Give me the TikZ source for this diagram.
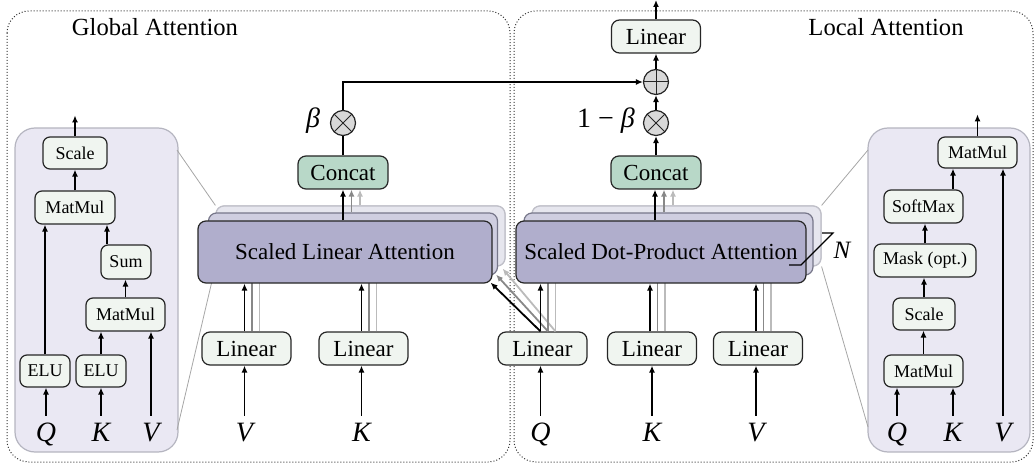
\documentclass[tikz,border=0pt]{standalone}
\usepackage{fontspec}
\setmainfont{Liberation Serif}
\usetikzlibrary{arrows.meta,calc}
\definecolor{boxfill}{HTML}{F0F5F0}
\definecolor{concatfill}{HTML}{B8D8C8}
\definecolor{panelfill}{HTML}{EAE8F3}
\definecolor{panelline}{HTML}{B5B5C0}
\definecolor{frontfill}{HTML}{B0AECC}
\definecolor{midfill}{HTML}{CFCEE0}
\definecolor{midline}{HTML}{77778A}
\definecolor{backfill}{HTML}{E6E6EE}
\definecolor{backline}{HTML}{BFBFC8}
\definecolor{circfill}{HTML}{D9D9D9}
\definecolor{garrow}{HTML}{888888}
\definecolor{larrow}{HTML}{BBBBBB}
\begin{document}
\begin{tikzpicture}[x=0.5pt,y=-0.5pt,
  lin/.style={draw=black!85, line width=0.6pt, rounded corners=4pt, fill=boxfill,
    minimum width=44.5pt, minimum height=16.5pt, inner sep=0pt,
    font=\fontsize{11.5}{13}\selectfont},
  concatbox/.style={lin, fill=concatfill, minimum width=45pt},
  sm/.style={draw=black!85, line width=0.6pt, rounded corners=3.5pt, fill=boxfill,
    minimum height=16pt, inner sep=0pt, font=\fontsize{9}{10}\selectfont},
  inp/.style={anchor=base, font=\fontsize{14}{16}\selectfont\itshape,
    text height=9.5pt, text depth=0pt, inner sep=3pt},
  title/.style={anchor=base, font=\fontsize{12.3}{14}\selectfont},
  arr/.style={-{Latex[length=3.5pt,width=3pt]}, line width=0.9pt},
  garr/.style={arr, draw=garrow, color=garrow},
  larr/.style={arr, draw=larrow, color=larrow},
  front/.style={draw=black!85, line width=0.6pt, rounded corners=4pt, fill=frontfill,
    inner sep=0pt, font=\fontsize{11.5}{13}\selectfont},
  mid/.style={draw=midline, line width=0.6pt, rounded corners=4pt, fill=midfill, inner sep=0pt},
  back/.style={draw=backline, line width=0.6pt, rounded corners=4pt, fill=backfill, inner sep=0pt},
  otimes/.style={circle, draw=black!85, fill=circfill, minimum size=12.5pt, inner sep=0pt,
    line width=0.6pt, path picture={\draw[line width=0.5pt]
      (path picture bounding box.south west) -- (path picture bounding box.north east)
      (path picture bounding box.north west) -- (path picture bounding box.south east);}},
  oplus/.style={circle, draw=black!85, fill=circfill, minimum size=12.5pt, inner sep=0pt,
    line width=0.6pt, path picture={\draw[line width=0.5pt]
      (path picture bounding box.north) -- (path picture bounding box.south)
      (path picture bounding box.west) -- (path picture bounding box.east);}},
  outer/.style={draw=black!80, densely dotted, line width=0.5pt, rounded corners=11pt},
  panel/.style={draw=panelline, fill=panelfill, line width=0.6pt, rounded corners=10pt},
  zoomline/.style={draw=black!35, line width=0.4pt}
]
\useasboundingbox (0,0) rectangle (1034,465);

% outer dotted frames
\draw[outer] (7,11) rectangle (510,462);
\draw[outer] (514,11) rectangle (1033,462);

% detail panels
\draw[panel] (15,128) rectangle (178,452);
\draw[panel] (868,128) rectangle (1030,452);

% titles
\node[title] (tg) at (155,36) {Global Attention};
\node[title] (tl) at (886,36) {Local Attention};

% stacks (positions)
\node[back, minimum width=144.5pt, minimum height=30pt] (slc) at (360.5,236) {};
\node[back, minimum width=144.5pt, minimum height=30pt] (src) at (676.5,236) {};

% zoom lines
\coordinate (zl1) at (177,150);
\coordinate (zl2) at (177,430);
\coordinate (zr1) at (868,150);
\coordinate (zr2) at (868,427);
\draw[zoomline] (zl1) -- (slc.north west);
\draw[zoomline] (zl2) -- (slc.south west);
\draw[zoomline] (zr1) -- (src.north east);
\draw[zoomline] (zr2) -- (src.south east);
\node[back, minimum width=144.5pt, minimum height=30pt] at (slc) {};
\node[back, minimum width=144.5pt, minimum height=30pt] at (src) {};

% bottom Linear boxes
\node[lin] (lv) at (246.5,348.5) {Linear};
\node[lin] (lk) at (363.5,348.5) {Linear};
\node[lin] (rq) at (542.5,348.5) {Linear};
\node[lin] (rk) at (652,348.5) {Linear};
\node[lin] (rv) at (758,348.5) {Linear};
\foreach \n in {lv,lk,rq,rk,rv}{
  \coordinate (\n b) at ($(\n.center)+(-2,0)$);
  \coordinate (\n g) at ($(\n.center)+(5.5,0)$);
  \coordinate (\n l) at ($(\n.center)+(13,0)$);
}

% light arrows (to back boxes)
\foreach \n in {lv,lk}{\draw[larr] (\n l |- \n.north) -- (\n l |- slc.south);}
\foreach \n in {rq,rk,rv}{\draw[larr] (\n l |- \n.north) -- (\n l |- src.south);}
\draw[larr] (rql |- rq.north) -- ($(slc.south east)+(-3,2)$);

% middle boxes
\node[mid, minimum width=144.5pt, minimum height=31pt] (slb) at (353,244) {};
\node[mid, minimum width=144.5pt, minimum height=31pt] (srb) at (668.5,244) {};
\foreach \n in {lv,lk}{\draw[garr] (\n g |- \n.north) -- (\n g |- slb.south);}
\foreach \n in {rq,rk,rv}{\draw[garr] (\n g |- \n.north) -- (\n g |- srb.south);}
\draw[garr] (rqg |- rq.north) -- ($(slb.south east)+(-2,-1)$);

% front boxes
\node[front, minimum width=147pt, minimum height=31pt] (sla) at (345,252) {Scaled Linear Attention};
\node[front, minimum width=145pt, minimum height=31pt] (sra) at (661,252) {Scaled Dot-Product Attention};
\foreach \n in {lv,lk}{\draw[arr] (\n b |- \n.north) -- (\n b |- sla.south);}
\foreach \n in {rq,rk,rv}{\draw[arr] (\n b |- \n.north) -- (\n b |- sra.south);}
\draw[arr] (rqb |- rq.north) -- ($(sla.south east)+(-2,-1)$);

% N marker
\coordinate (n1) at (789,265);
\coordinate (n2) at (801,265);
\coordinate (n3) at (833,233);
\coordinate (n4) at (822,233);
\draw[line width=0.6pt] (n1) -- (n2) -- (n3) -- (n4);
\node[font=\fontsize{12.5}{14}\selectfont\itshape] (nl) at (842,250) {N};

% inputs main
\node[inp] (iv) at (244.5,441) {V};
\node[inp] (ik) at (361.5,441) {K};
\node[inp] (iq2) at (540.5,441) {Q};
\node[inp] (ik2) at (652,441) {K};
\node[inp] (iv2) at (756,441) {V};
\draw[arr] (iv.north) -- (iv.north |- lv.south);
\draw[arr] (ik.north) -- (ik.north |- lk.south);
\draw[arr] (iq2.north) -- (iq2.north |- rq.south);
\draw[arr] (ik2.north) -- (ik2.north |- rk.south);
\draw[arr] (iv2.north) -- (iv2.north |- rv.south);

% concat
\node[concatbox] (cl) at (343,172.5) {Concat};
\node[concatbox] (cr) at (656,172.5) {Concat};
\coordinate (clg) at ($(cl.center)+(8.5,0)$);
\coordinate (cll) at ($(cl.center)+(17,0)$);
\coordinate (crb) at ($(cr.center)+(-1,0)$);
\coordinate (crg) at ($(cr.center)+(8,0)$);
\coordinate (crl) at ($(cr.center)+(17,0)$);
\draw[larr] (cll |- slc.north) -- (cll |- cl.south);
\draw[garr] (clg |- slb.north) -- (clg |- cl.south);
\draw[arr] (cl.center |- sla.north) -- (cl.south);
\draw[larr] (crl |- src.north) -- (crl |- cr.south);
\draw[garr] (crg |- srb.north) -- (crg |- cr.south);
\draw[arr] (crb |- sra.north) -- (crb |- cr.south);

% combination
\node[otimes] (ol) at (343,123) {};
\node[otimes] (or) at (656,123) {};
\node[oplus] (op) at (656,82) {};
\node[font=\fontsize{14}{16}\selectfont\itshape] (bl) at (313,121) {β};
\node[font=\fontsize{14}{16}\selectfont] (br) at (606,121) {1\hspace{0.25em}−\hspace{0.25em}\textit{β}};
\node[lin] (lt) at (656,36.5) {Linear};
\coordinate (out) at (656,0);
\draw[line width=0.9pt] (cl.north) -- (ol.south);
\draw[arr] (ol.north) |- (op.west);
\draw[arr] (cr.north) -- (or.south);
\draw[arr] (or.north) -- (op.south);
\draw[arr] (op.north) -- (lt.south);
\draw[arr] (lt.north) -- (out);

% ---- left detail panel ----
\node[sm, minimum width=32pt] (sc1) at (75,153) {Scale};
\node[sm, minimum width=40pt, minimum height=16.5pt] (mm1) at (75,207.5) {MatMul};
\node[sm, minimum width=25pt, minimum height=17pt] (sum) at (126,262) {Sum};
\node[sm, minimum width=39.5pt, minimum height=16.5pt] (mm2) at (125.5,314.5) {MatMul};
\node[sm, minimum width=25pt] (elu1) at (45,371) {ELU};
\node[sm, minimum width=25pt] (elu2) at (101,371) {ELU};
\node[inp] (pq) at (46,441) {Q};
\node[inp] (pk) at (101,441) {K};
\node[inp] (pv) at (151,441) {V};
\draw[arr] (pq.north) -- (pq.north |- elu1.south);
\draw[arr] (pk.north) -- (pk.north |- elu2.south);
\draw[arr] (pv.north) -- (pv.north |- mm2.south);
\draw[arr] (elu1.north) -- (elu1.north |- mm1.south);
\draw[arr] (elu2.north) -- (elu2.north |- mm2.south);
\draw[arr] (mm2.north) -- (mm2.north |- sum.south);
\coordinate (sumo) at ($(sum.north)+(-19,0)$);
\draw[arr] (sumo) -- (sumo |- mm1.south);
\draw[arr] (mm1.north) -- (sc1.south);
\draw[arr] (sc1.north) -- ++(0,-21);

% ---- right detail panel ----
\node[sm, minimum width=39.5pt, minimum height=15.5pt] (mmt) at (977.5,152.5) {MatMul};
\node[sm, minimum width=39.5pt, minimum height=16.5pt] (smx) at (923.5,206.5) {SoftMax};
\node[sm, minimum width=51pt, minimum height=16.5pt] (mask) at (925,260.5) {Mask (opt.)};
\node[sm, minimum width=31pt] (scr) at (924,314) {Scale};
\node[sm, minimum width=39.5pt] (mmb) at (923.5,371) {MatMul};
\node[inp] (qq) at (897,441) {Q};
\node[inp] (qk) at (953,441) {K};
\node[inp] (qv) at (1003,441) {V};
\draw[arr] (qq.north) -- (qq.north |- mmb.south);
\draw[arr] (qk.north) -- (qk.north |- mmb.south);
\draw[arr] (qv.north) -- (qv.north |- mmt.south);
\draw[arr] (mmb.north) -- (mmb.north |- scr.south);
\draw[arr] (scr.north) -- (scr.north |- mask.south);
\draw[arr] (mask.north) -- (mask.north |- smx.south);
\coordinate (smo) at ($(smx.north)+(29.5,0)$);
\draw[arr] (smo) -- (smo |- mmt.south);
\draw[arr] (mmt.north) -- ++(0,-22);
\end{tikzpicture}
\end{document}
